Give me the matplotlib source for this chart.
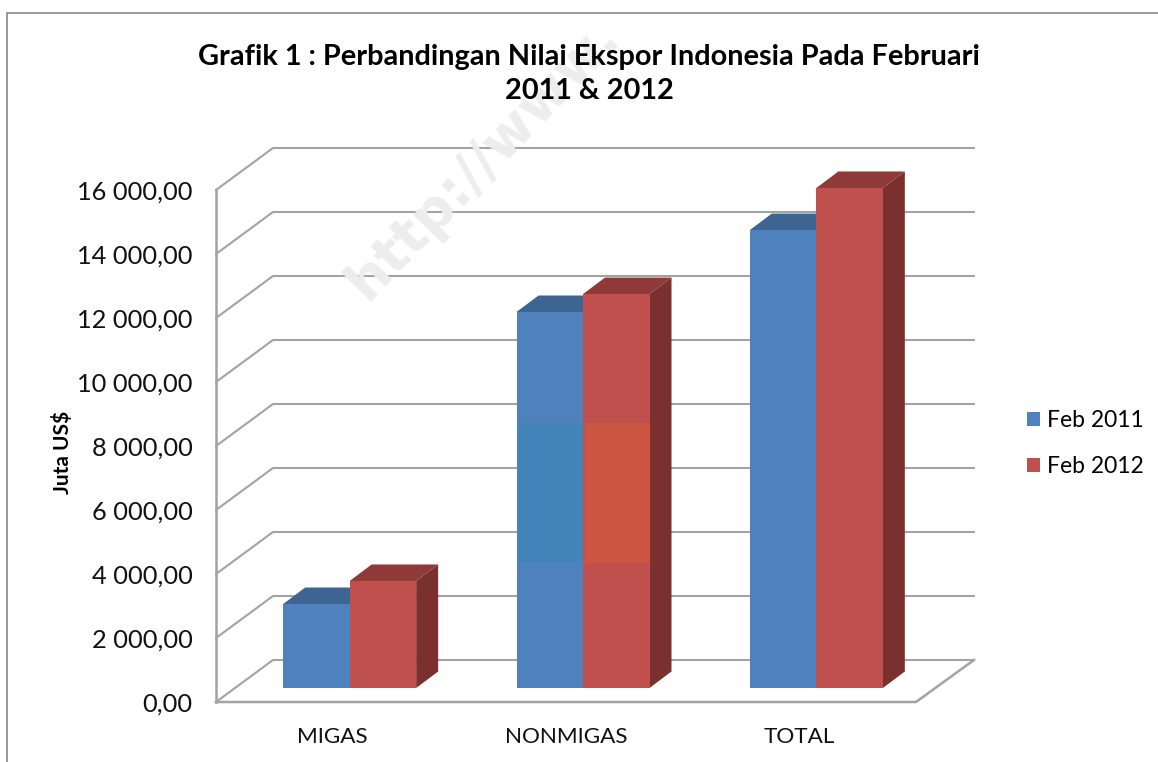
import matplotlib
matplotlib.use("Agg")
import matplotlib.pyplot as plt
from matplotlib.lines import Line2D
from matplotlib.patches import Polygon, Rectangle, Patch

plt.rcParams['font.family'] = ['Lato', 'DejaVu Sans']

# datos
kategori = ["MIGAS", "NONMIGAS", "TOTAL"]
feb_2011 = [2625, 11750, 14310]
feb_2012 = [3345, 12310, 15625]
nilai_sumbu = [0, 2000, 4000, 6000, 8000, 10000, 12000, 14000, 16000]
label_sumbu = ["0,00", "2 000,00", "4 000,00", "6 000,00", "8 000,00",
               "10 000,00", "12 000,00", "14 000,00", "16 000,00"]

W, H = 1158, 762
X0, X1 = 216, 916    # eje frontal en pixeles
Y0, Y1 = 702, 190

fig = plt.figure(figsize=(W / 100, H / 100), dpi=100)
ax = fig.add_axes([X0 / W, (H - Y0) / H, (X1 - X0) / W, (Y0 - Y1) / H])
ax.set_xlim(0, 3)
ax.set_ylim(0, 16000)
px = 3 / (X1 - X0)       # unidades de datos por pixel
py = 16000 / (Y0 - Y1)

gris = "#A3A3A3"
azul, azul_top = "#4F81BD", "#3E6592"
rojo, rojo_top, rojo_lado = "#C0504D", "#8F3A38", "#7B3030"
azul_banda, rojo_banda = "#4384B9", "#CB5541"

# marca de agua
fig.text(367 / W, 1 - 302 / H, "http://www.", fontsize=40, fontweight="bold", color="#EDEDED",
         family="DejaVu Sans", rotation=46, rotation_mode="anchor", ha="left", va="baseline", zorder=0)

# paredes y lineas de rejilla
ax.patch.set_alpha(0)
wx, wy = 57 * px, 42 * py
for v in nilai_sumbu:
    ax.plot([0, wx, 3 + 58 * px], [v, v + wy, v + wy], color=gris, lw=1.5, clip_on=False, zorder=1)
ax.plot([0, 0], [0, 16000], color=gris, lw=1.8, clip_on=False, zorder=1)
ax.plot([0, 3, 3 + 58 * px], [0, 0, wy], color=gris, lw=1.8, clip_on=False, zorder=1)

# barras con efecto 3d
ancho = 66.5 * px
dx, dy = 22 * px, 16.5 * py
base = 14 * py


def barra(x, valor, frente, arriba, lado):
    top = base + valor
    ax.add_patch(Polygon([(x, top), (x + dx, top + dy), (x + ancho + dx, top + dy), (x + ancho, top)],
                         fc=arriba, ec="none", clip_on=False, zorder=2))
    ax.add_patch(Polygon([(x + ancho, base), (x + ancho + dx, base + dy), (x + ancho + dx, top + dy),
                          (x + ancho, top)], fc=lado, ec="none", clip_on=False, zorder=2))
    ax.add_patch(Rectangle((x, base), ancho, valor, fc=frente, ec="none", clip_on=False, zorder=2))


for i in range(len(kategori)):
    centro = i + 0.5 + 17 * px
    barra(centro - ancho, feb_2011[i], azul, azul_top, azul)
    barra(centro, feb_2012[i], rojo, rojo_top, rojo_lado)

# la marca de agua tine esta parte de NONMIGAS
banda_y, banda_h = (Y0 - 563) * py, 140 * py
ax.add_patch(Rectangle((1.5 + 17 * px - ancho, banda_y), ancho, banda_h, fc=azul_banda, ec="none", zorder=3))
ax.add_patch(Rectangle((1.5 + 19 * px, banda_y), ancho - 2 * px, banda_h, fc=rojo_banda, ec="none", zorder=3))

for s in ax.spines.values():
    s.set_visible(False)
ax.set_xticks([0.5, 1.5, 2.5])
ax.set_xticklabels(kategori, fontsize=16.2, color="#111111")
ax.set_yticks(nilai_sumbu)
ax.set_yticklabels(label_sumbu, fontsize=18.3, color="#111111")
ax.tick_params(axis="x", length=0, pad=18)
ax.tick_params(axis="y", length=0, pad=17)

fig.text(62 / W, 1 - 452 / H, "Juta US$", rotation=90, fontsize=15, fontweight="bold", ha="center", va="center")
fig.text(589 / W, 1 - 74 / H, "Grafik 1 : Perbandingan Nilai Ekspor Indonesia Pada Februari\n2011 & 2012",
         fontsize=20.8, fontweight="bold", ha="center", va="center", linespacing=1.4)

handles = [Patch(fc=azul, label="Feb 2011"), Patch(fc=rojo, label="Feb 2012")]
fig.legend(handles=handles, loc="center left", bbox_to_anchor=(1006 / W, 1 - 443.5 / H), frameon=False,
           fontsize=16.5, handlelength=0.6, handleheight=0.6, handletextpad=0.3, labelspacing=1.08)

# marco
marco = "#868686"
fig.add_artist(Line2D([7 / W, 7 / W, 1], [0, 1 - 13 / H, 1 - 13 / H], color=marco, lw=1.2))

fig.savefig("out.png", dpi=100)
